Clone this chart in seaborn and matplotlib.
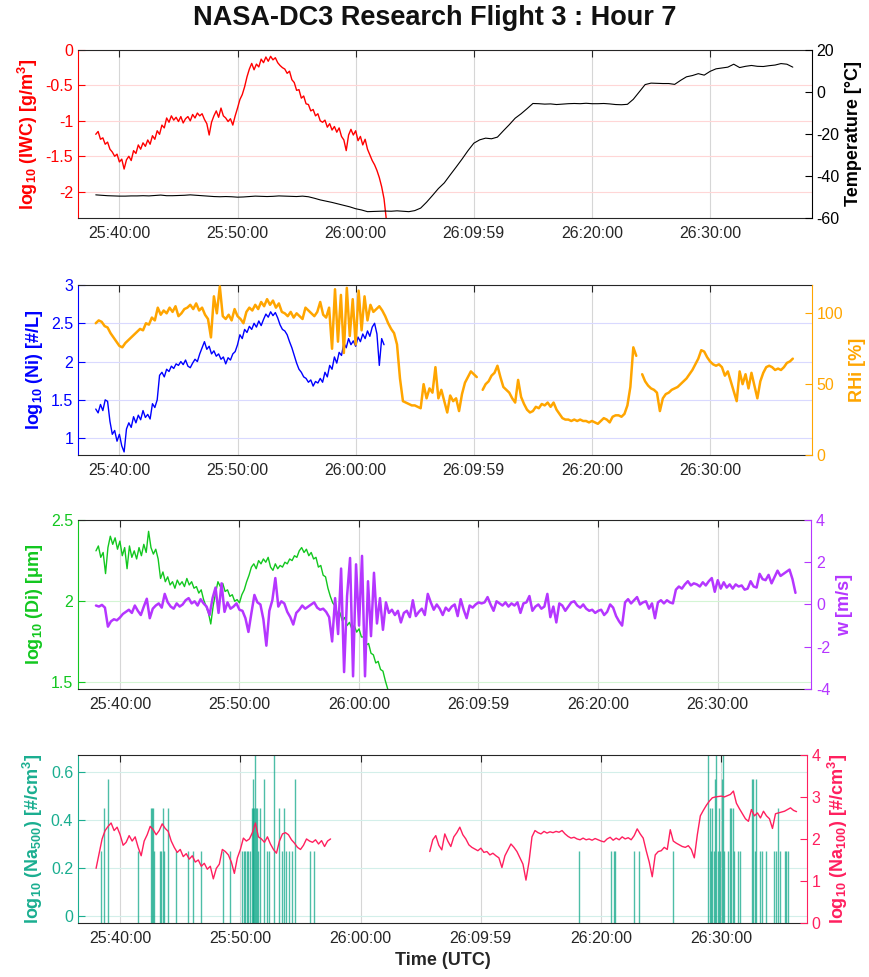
import numpy as np
import pandas as pd
import matplotlib
matplotlib.use("Agg")
import matplotlib.pyplot as plt
from matplotlib.ticker import FuncFormatter
import seaborn as sns

# time is in minutes after 25:00 UTC
xtick_pos = [40, 50, 60, 69.983, 80, 90]
xtick_labels = ["25:40:00", "25:50:00", "26:00:00", "26:09:59", "26:20:00", "26:30:00"]

# ---- panel 1: ice water content (12 s steps) and temperature (30 s steps)
iwc_t0, iwc_dt = 38.0, 0.2
iwc = [
    -1.19, -1.15, -1.26, -1.24, -1.33, -1.30, -1.40, -1.44, -1.50, -1.47,
    -1.58, -1.54, -1.68, -1.55, -1.50, -1.56, -1.42, -1.46, -1.34, -1.40,
    -1.31, -1.36, -1.27, -1.33, -1.21, -1.26, -1.14, -1.19, -1.06, -1.10,
    -0.96, -1.02, -0.93, -0.99, -0.95, -1.01, -0.94, -1.03, -0.97, -0.94,
    -1.00, -0.91, -0.96, -0.89, -0.93, -0.90, -0.98, -1.04, -1.20, -1.02,
    -0.93, -0.86, -0.95, -0.82, -0.93, -0.96, -1.01, -0.97, -1.06, -0.93,
    -0.82, -0.70, -0.63, -0.52, -0.38, -0.27, -0.19, -0.28, -0.20, -0.24,
    -0.13, -0.18, -0.10, -0.16, -0.09, -0.14, -0.11, -0.18, -0.22, -0.25,
    -0.27, -0.33, -0.30, -0.42, -0.46, -0.57, -0.56, -0.68, -0.65, -0.76,
    -0.77, -0.86, -0.84, -0.93, -0.90, -1.00, -1.02, -0.99, -1.09, -1.04,
    -1.13, -1.08, -1.16, -1.10, -1.22, -1.27, -1.42, -1.20, -1.12, -1.20,
    -1.14, -1.28, -1.22, -1.34, -1.26, -1.40, -1.48, -1.56, -1.62, -1.70,
    -1.80, -1.93, -2.10, -2.40,
]
temp_t0, temp_dt = 38.0, 0.5
temp = [
    -49.0, -49.2, -49.4, -49.5, -49.6, -49.6, -49.5, -49.5, -49.4, -49.5,
    -49.3, -49.1, -49.4, -49.4, -49.3, -49.2, -49.0, -49.2, -49.4, -49.6,
    -49.8, -49.9, -49.8, -49.9, -50.1, -50.0, -49.8, -49.6, -49.7, -49.8,
    -49.7, -49.5, -49.6, -49.7, -49.8, -49.6, -49.9, -50.6, -51.4, -52.0,
    -52.6, -53.3, -54.0, -54.7, -55.6, -56.2, -57.0, -56.9, -56.8, -56.7,
    -56.8, -56.6, -56.8, -57.0, -56.5, -55.3, -52.5, -49.3, -46.0, -43.3,
    -39.5, -35.8, -32.0, -28.0, -24.4, -22.8, -22.0, -22.3, -21.5, -18.5,
    -15.6, -12.5, -10.4, -8.0, -5.5, -5.6, -5.8, -5.7, -6.0, -5.8,
    -5.6, -5.5, -5.6, -5.4, -5.6, -5.6, -5.5, -5.7, -6.0, -6.1,
    -5.9, -3.5, 0.0, 3.5, 4.2, 4.1, 4.0, 4.0, 3.6, 5.5,
    7.2, 7.8, 8.7, 8.0, 9.8, 11.0, 11.4, 11.8, 13.2, 11.6,
    12.2, 12.6, 12.2, 12.1, 12.5, 12.8, 13.5, 13.2, 11.8,
]

# ---- panel 2: ice number concentration and RHi
ni_t0, ni_dt = 38.0, 0.2
ni = [
    1.38, 1.33, 1.44, 1.36, 1.50, 1.48, 1.22, 1.05, 1.10, 0.96,
    1.05, 0.90, 0.82, 1.12, 1.20, 1.14, 1.28, 1.20, 1.30, 1.24,
    1.36, 1.27, 1.31, 1.25, 1.45, 1.40, 1.50, 1.82, 1.86, 1.80,
    1.90, 1.87, 1.94, 1.91, 1.97, 1.95, 2.00, 1.96, 2.02, 1.94,
    1.92, 1.98, 2.03, 2.00, 2.10, 2.18, 2.26, 2.16, 2.20, 2.10,
    2.14, 2.07, 2.10, 2.03, 2.06, 1.97, 2.05, 2.02, 2.10, 2.13,
    2.22, 2.35, 2.30, 2.42, 2.38, 2.46, 2.42, 2.50, 2.45, 2.53,
    2.47, 2.55, 2.62, 2.58, 2.65, 2.60, 2.64, 2.57, 2.48, 2.42,
    2.40, 2.35, 2.26, 2.18, 2.08, 1.98, 1.90, 1.86, 1.80, 1.78,
    1.73, 1.76, 1.68, 1.74, 1.72, 1.78, 1.73, 1.86, 1.80, 1.95,
    1.90, 2.06, 1.98, 2.12, 2.08, 2.24, 2.18, 2.30, 2.22, 2.27,
    2.20, 2.32, 2.26, 2.36, 2.30, 2.40, 2.33, 2.45, 2.50, 2.36,
    1.95, 2.30, 2.22,
]
rhi_t0, rhi_dt = 38.0, 0.25
rhi = [
    93, 95, 94, 91, 90, 86, 83, 80,
    77, 76, 79, 81, 83, 85, 87, 89,
    88, 93, 92, 97, 95, 104, 99, 102,
    100, 104, 101, 105, 98, 100, 103, 104,
    106, 103, 107, 102, 104, 99, 96, 83,
    112, 100, 119, 98, 96, 99, 95, 103,
    98, 96, 93, 101, 104, 102, 106, 103,
    108, 105, 110, 106, 109, 104, 107, 101,
    100, 98, 101, 97, 100, 98, 96, 104,
    102, 100, 98, 101, 108, 99, 97, 104,
    75, 117, 80, 113, 72, 118, 84, 110,
    78, 116, 88, 112, 95, 106, 101, 103,
    105, 102, 98, 93, 89, 86, 78, 54,
    38, 37, 36, 35, 35, 34, 33, 50,
    40, 47, 44, 62, 40, 46, 38, 30,
    42, 38, 40, 31, 43, 51, 55, 59,
    57, 55, np.nan, 46, 50, 52, 56, 58,
    63, 55, 48, 46, 44, 40, 37, 53,
    41, 36, 32, 30, 31, 34, 33, 36,
    35, 37, 34, 37, 32, 29, 26, 25,
    25, 24, 25, 24, 25, 24, 24, 23,
    24, 23, 22, 24, 26, 25, 23, 27,
    28, 28, 27, 29, 35, 48, 76, 70,
    np.nan, 57, 52, 49, 47, 46, 44, 31,
    40, 43, 44, 46, 47, 48, 50, 52,
    54, 57, 60, 64, 68, 74, 73, 69,
    66, 64, 63, 64, 62, 56, 59, 52,
    45, 38, 59, 50, 57, 47, 58, 49,
    40, 52, 58, 62, 63, 62, 60, 61,
    60, 62, 65, 66, 68,
]

# ---- panel 3: ice particle diameter and vertical wind
di_t0, di_dt = 38.0, 0.2
di = [
    2.31, 2.34, 2.27, 2.30, 2.17, 2.33, 2.40, 2.35, 2.39, 2.32,
    2.37, 2.28, 2.33, 2.20, 2.34, 2.27, 2.31, 2.26, 2.33, 2.28,
    2.35, 2.30, 2.43, 2.33, 2.29, 2.32, 2.26, 2.14, 2.18, 2.12,
    2.15, 2.10, 2.12, 2.08, 2.13, 2.10, 2.12, 2.09, 2.14, 2.10,
    2.12, 2.08, 2.09, 2.05, 2.07, 2.01, 1.97, 1.93, 1.86, 1.97,
    2.05, 2.12, 2.09, 2.11, 2.06, 2.07, 2.03, 2.04, 2.00, 2.01,
    1.99, 2.04, 2.07, 2.12, 2.16, 2.21, 2.23, 2.20, 2.25, 2.23,
    2.26, 2.24, 2.27, 2.21, 2.19, 2.23, 2.20, 2.22, 2.21, 2.24,
    2.23, 2.26, 2.25, 2.28, 2.27, 2.31, 2.33, 2.30, 2.32, 2.28,
    2.30, 2.26, 2.27, 2.21, 2.22, 2.16, 2.15, 2.08, 2.03, 1.99,
    1.97, 1.92, 1.93, 1.88, 1.90, 1.85, 1.87, 1.83, 1.85, 1.81,
    1.83, 1.78, 1.78, 1.73, 1.74, 1.68, 1.67, 1.62, 1.63, 1.58,
    1.57, 1.51, 1.46,
]
w_t0, w_dt = 38.0, 0.25
w = [
    -0.05, -0.10, -0.02, -0.15, -1.05, -0.80, -0.70, -0.75,
    -0.62, -0.45, -0.35, -0.25, -0.40, -0.05, -0.30, -0.50,
    -0.10, 0.27, -0.65, -0.20, -0.05, 0.05, -0.15, 0.50,
    0.10, -0.10, -0.20, 0.05, -0.10, 0.00, 0.20, 0.30,
    0.05, 0.15, -0.05, 0.25, 0.05, -0.10, -0.50, 0.30,
    0.80, -0.40, 1.00, -0.35, 0.10, -0.20, -0.10, 0.05,
    -0.25, -0.30, -0.65, -1.30, -0.40, 0.45, 0.10, 0.00,
    -0.70, -1.95, -0.30, 0.20, 1.25, -0.10, 0.15, 0.05,
    -0.35, -0.60, -0.95, -0.40, -0.25, -0.05, -0.20, -0.10,
    0.00, 0.10, -0.15, -0.25, -0.20, -0.35, -0.60, -1.75,
    0.30, -1.40, 1.70, -3.20, 0.40, 2.20, -3.40, 1.90,
    -1.00, 2.30, -3.40, 1.10, -1.50, 1.50, -0.90, 0.30,
    -1.20, 0.10, -0.40, -0.25, -0.50, -0.30, -0.85, -0.40,
    -0.30, -0.60, 0.20, -0.55, -0.35, -0.20, -0.50, 0.50,
    0.10, -0.25, 0.00, -0.20, -0.50, -0.15, -0.30, -0.10,
    0.00, -0.55, 0.25, -0.25, -0.65, -0.05, -0.15, 0.00,
    0.10, 0.05, 0.10, 0.35, 0.00, -0.30, 0.15, 0.05,
    -0.05, 0.10, -0.10, 0.05, -0.05, 0.10, -0.40, 0.05,
    0.10, 0.40, -0.30, -0.10, 0.00, -0.20, -0.10, 0.50,
    -0.60, -0.10, -0.85, 0.05, -0.05, -0.30, -0.10, 0.10,
    0.15, -0.05, -0.15, 0.00, -0.20, -0.30, -0.25, -0.40,
    -0.30, -0.25, -0.50, -0.35, 0.00, -0.15, -0.55, -0.80,
    -1.00, 0.10, 0.25, 0.05, 0.20, 0.35, 0.00, 0.10,
    0.15, -0.20, 0.05, -0.65, 0.10, 0.20, 0.05, 0.20,
    0.10, 0.05, 0.70, 0.85, 0.75, 0.95, 1.10, 0.90,
    1.00, 0.95, 0.85, 1.05, 0.90, 1.10, 1.25, 0.60,
    1.15, 0.75, 1.05, 0.80, 0.95, 0.75, 0.95, 0.85,
    0.90, 0.70, 0.75, 1.10, 0.85, 0.80, 1.45, 1.20,
    1.15, 1.40, 1.00, 1.30, 1.60, 1.35, 1.45, 1.55,
    1.65, 1.20, 0.55,
]

# ---- panel 4: aerosol counts
na500_t = [
    38.39, 38.67, 39.03, 41.52, 42.58, 42.66, 42.77, 42.83, 43.32, 43.43,
    43.55, 43.63, 43.96, 44.65, 45.68, 46.09, 46.73, 48.59, 49.14, 50.17,
    50.30, 50.42, 50.53, 50.66, 50.80, 50.94, 51.02, 51.08, 51.14, 51.22,
    51.27, 51.36, 51.50, 51.63, 51.97, 52.19, 52.41, 52.80, 53.19, 53.43,
    53.63, 53.77, 54.02, 54.27, 54.52, 55.82, 56.09,
    78.17, 80.84, 81.03, 81.17, 82.70, 83.14, 86.00,
    88.92, 89.05, 89.14, 89.25, 89.36, 89.47, 89.58, 89.69, 89.80, 89.91,
    90.03, 90.14, 90.25, 90.53, 90.69, 90.80, 90.94, 91.08, 91.41, 91.58,
    92.53, 92.64, 92.80, 92.91, 93.25, 93.36, 93.69, 94.36, 94.55, 94.75,
    94.86, 95.25, 95.39, 95.53,
]
na500_h = [
    0.27, 0.45, 0.57, 0.27, 0.45, 0.45, 0.45, 0.27, 0.27, 0.27,
    0.45, 0.27, 0.45, 0.27, 0.27, 0.27, 0.27, 0.27, 0.27, 0.27,
    0.27, 0.27, 0.27, 0.27, 0.27, 0.45, 0.45, 0.57, 0.45, 0.70,
    0.45, 0.45, 0.27, 0.45, 0.57, 0.27, 0.27, 0.70, 0.45, 0.27,
    0.45, 0.27, 0.27, 0.27, 0.57, 0.27, 0.27,
    0.27, 0.27, 0.27, 0.27, 0.27, 0.27, 0.27,
    0.70, 0.45, 0.27, 0.45, 0.27, 0.57, 0.70, 0.27, 0.45, 0.27,
    0.57, 0.70, 0.27, 0.27, 0.45, 0.45, 0.45, 0.27, 0.27, 0.27,
    0.57, 0.57, 0.27, 0.57, 0.27, 0.27, 0.27, 0.27, 0.27, 0.45,
    0.27, 0.27, 0.27, 0.27,
]
na100a_t0, na100b_t0, na100_dt = 38.0, 65.75, 0.25
na100_a = [
    1.30, 1.65, 2.00, 2.20, 2.30, 2.38, 2.20, 2.28,
    2.10, 1.85, 1.92, 2.08, 1.95, 2.05, 1.80, 1.60,
    1.95, 2.10, 2.30, 2.22, 2.10, 2.20, 2.36, 2.25,
    2.18, 1.95, 1.80, 1.68, 1.75, 1.58, 1.65, 1.52,
    1.60, 1.45, 1.50, 1.35, 1.42, 1.28, 1.35, 1.05,
    1.30, 1.40, 1.75, 1.70, 1.62, 1.45, 1.18, 1.55,
    1.75, 2.02, 1.95, 2.00, 2.15, 2.38, 2.05, 2.00,
    1.92, 2.05, 1.88, 1.75, 1.66, 1.95, 2.12, 2.15,
    2.10, 1.98, 1.90, 1.80, 1.75, 1.85, 2.00, 1.95,
    1.92, 1.98, 1.88, 1.96, 1.82, 1.95, 2.00,
]
na100_b = [
    1.70, 1.98, 2.08, 1.85, 1.74, 2.12, 1.95, 1.82,
    2.05, 2.15, 2.28, 2.10, 2.00, 1.86, 1.80, 1.76,
    1.72, 1.78, 1.68, 1.70, 1.62, 1.66, 1.60, 1.55,
    1.32, 1.60, 1.74, 1.88, 1.80, 1.70, 1.55, 1.40,
    1.02, 1.45, 2.05, 2.20, 2.15, 2.12, 2.18, 2.14,
    2.17, 2.15, 2.18, 2.16, 2.20, 2.12, 2.06, 2.02,
    2.04, 2.00, 1.98, 2.02, 1.98, 2.00, 1.97, 2.01,
    1.98, 1.95, 1.93, 2.00, 2.04, 1.97, 2.02, 1.98,
    2.05, 2.00, 2.03, 1.98, 2.08, 2.24, 2.12, 2.02,
    1.72, 1.45, 1.10, 1.62, 1.70, 1.72, 1.80, 1.75,
    2.22, 1.95, 1.90, 1.86, 1.82, 1.80, 1.84, 1.75,
    1.55, 2.10, 2.55, 2.68, 2.80, 2.90, 2.98, 3.00,
    3.01, 3.02, 3.00, 3.03, 3.06, 3.14, 2.85, 2.72,
    2.60, 2.48, 2.42, 2.70, 2.55, 2.62, 2.50, 2.66,
    2.55, 2.48, 2.25, 2.60, 2.62, 2.64, 2.66, 2.70,
    2.74, 2.68, 2.65,
]

DARK = "#262626"
TICK_FS = 11.5
LABEL_FS = 13


def draw_series(ax, t0, dt, values, color, lw):
    """Line through the samples; NaN values split the line into pieces."""
    v = np.asarray(values, dtype=float)
    df = pd.DataFrame({"t": t0 + dt * np.arange(len(v)), "v": v})
    df["seg"] = df["v"].isna().cumsum()
    df = df.dropna()
    sns.lineplot(data=df, x="t", y="v", units="seg", estimator=None,
                 color=color, linewidth=lw, ax=ax, legend=False)


def style_panel(ax, axr, xlim, lcol, llim, lticks, llabel,
                rcol, rlim, rticks, rlabel, grid_col):
    fmt = FuncFormatter(lambda v, p: f"{v:g}")
    ax.set_xlim(*xlim)
    ax.set_xticks(xtick_pos)
    ax.set_xticklabels(xtick_labels)
    ax.set_xlabel("")
    ax.tick_params(axis="x", direction="in", top=True, length=5,
                   colors=DARK, labelsize=TICK_FS, pad=6)

    ax.set_ylim(*llim)
    ax.set_yticks(lticks)
    ax.yaxis.set_major_formatter(fmt)
    ax.tick_params(axis="y", direction="in", length=5, colors=lcol,
                   labelsize=TICK_FS)
    ax.set_ylabel(llabel, color=lcol, fontsize=LABEL_FS, fontweight="bold")

    axr.set_ylim(*rlim)
    axr.set_yticks(rticks)
    axr.yaxis.set_major_formatter(fmt)
    axr.tick_params(axis="y", direction="in", length=5, colors=rcol,
                    labelsize=TICK_FS)
    axr.set_ylabel(rlabel, color=rcol, fontsize=LABEL_FS, fontweight="bold")
    axr.set_xlabel("")

    ax.set_axisbelow(True)
    ax.grid(axis="x", color="#d6d6d6", linewidth=0.8)
    ax.grid(axis="y", color=grid_col, linewidth=0.8)

    for s in ("top", "bottom"):
        ax.spines[s].set_color(DARK)
        ax.spines[s].set_linewidth(0.8)
        axr.spines[s].set_visible(False)
    ax.spines["left"].set_color(lcol)
    ax.spines["right"].set_visible(False)
    axr.spines["left"].set_visible(False)
    axr.spines["right"].set_color(rcol)


def main():
    sns.set_style("white")
    plt.rcParams["font.family"] = ["Liberation Sans", "DejaVu Sans"]
    plt.rcParams["mathtext.fontset"] = "custom"
    plt.rcParams["mathtext.rm"] = "Liberation Sans"
    plt.rcParams["mathtext.bf"] = "Liberation Sans:bold"
    plt.rcParams["mathtext.it"] = "Liberation Sans:bold:italic"
    plt.rcParams["mathtext.default"] = "bf"
    plt.rcParams["axes.unicode_minus"] = False

    fig = plt.figure(figsize=(8.7, 9.77), dpi=100)
    ax1 = fig.add_axes([0.0897, 0.7769, 0.8433, 0.172])
    ax2 = fig.add_axes([0.0897, 0.5343, 0.8433, 0.174])
    ax3 = fig.add_axes([0.0897, 0.2948, 0.8425, 0.173])
    ax4 = fig.add_axes([0.0897, 0.0553, 0.8376, 0.172])

    # panel 1
    ax1r = ax1.twinx()
    draw_series(ax1, iwc_t0, iwc_dt, iwc, "#ff0000", 1.0)
    draw_series(ax1r, temp_t0, temp_dt, temp, "#000000", 0.8)
    style_panel(ax1, ax1r, (36.5, 98.6),
                "#ff0000", (-2.37, 0), [-2, -1.5, -1, -0.5, 0],
                "log$_{10}$ (IWC) [g/m$^3$]",
                "#000000", (-60, 20), [-60, -40, -20, 0, 20],
                "Temperature [°C]", "#ffd6d6")

    # panel 2
    ax2r = ax2.twinx()
    draw_series(ax2, ni_t0, ni_dt, ni, "#0000ff", 1.0)
    draw_series(ax2r, rhi_t0, rhi_dt, rhi, "#ffa500", 1.8)
    style_panel(ax2, ax2r, (36.5, 98.6),
                "#0000ff", (0.78, 3), [1, 1.5, 2, 2.5, 3],
                "log$_{10}$ (Ni) [#/L]",
                "#ffa500", (0, 120), [0, 50, 100],
                "RHi [%]", "#d9d9ff")

    # panel 3
    ax3r = ax3.twinx()
    draw_series(ax3, di_t0, di_dt, di, "#12c71f", 1.0)
    draw_series(ax3r, w_t0, w_dt, w, "#b536ff", 1.8)
    style_panel(ax3, ax3r, (36.5, 97.8),
                "#12c71f", (1.46, 2.5), [1.5, 2, 2.5],
                "log$_{10}$ (Di) [$\\mu$m]",
                "#b536ff", (-4, 4), [-4, -2, 0, 2, 4],
                "w [m/s]", "#d3f5d3")

    # panel 4
    ax4r = ax4.twinx()
    ax4.vlines(na500_t, -0.03, na500_h, color="#13a98a", linewidth=1.0,
               alpha=0.75)
    draw_series(ax4r, na100a_t0, na100_dt, na100_a, "#ff1f5e", 1.0)
    draw_series(ax4r, na100b_t0, na100_dt, na100_b, "#ff1f5e", 1.0)
    style_panel(ax4, ax4r, (36.5, 97.1),
                "#1aae90", (-0.03, 0.67), [0, 0.2, 0.4, 0.6],
                "log$_{10}$ (Na$_{500}$) [#/cm$^3$]",
                "#ff1f5e", (0, 4), [0, 1, 2, 3, 4],
                "log$_{10}$ (Na$_{100}$) [#/cm$^3$]", "#d3efea")
    ax4.set_xlabel("Time (UTC)", fontsize=LABEL_FS, fontweight="bold",
                   color=DARK)

    fig.text(0.5, 0.982, "NASA-DC3 Research Flight 3 : Hour 7",
             ha="center", va="center", fontsize=19.5, fontweight="bold",
             color="#111111")

    fig.savefig("out.png", dpi=100)
    plt.close(fig)


if __name__ == "__main__":
    main()
